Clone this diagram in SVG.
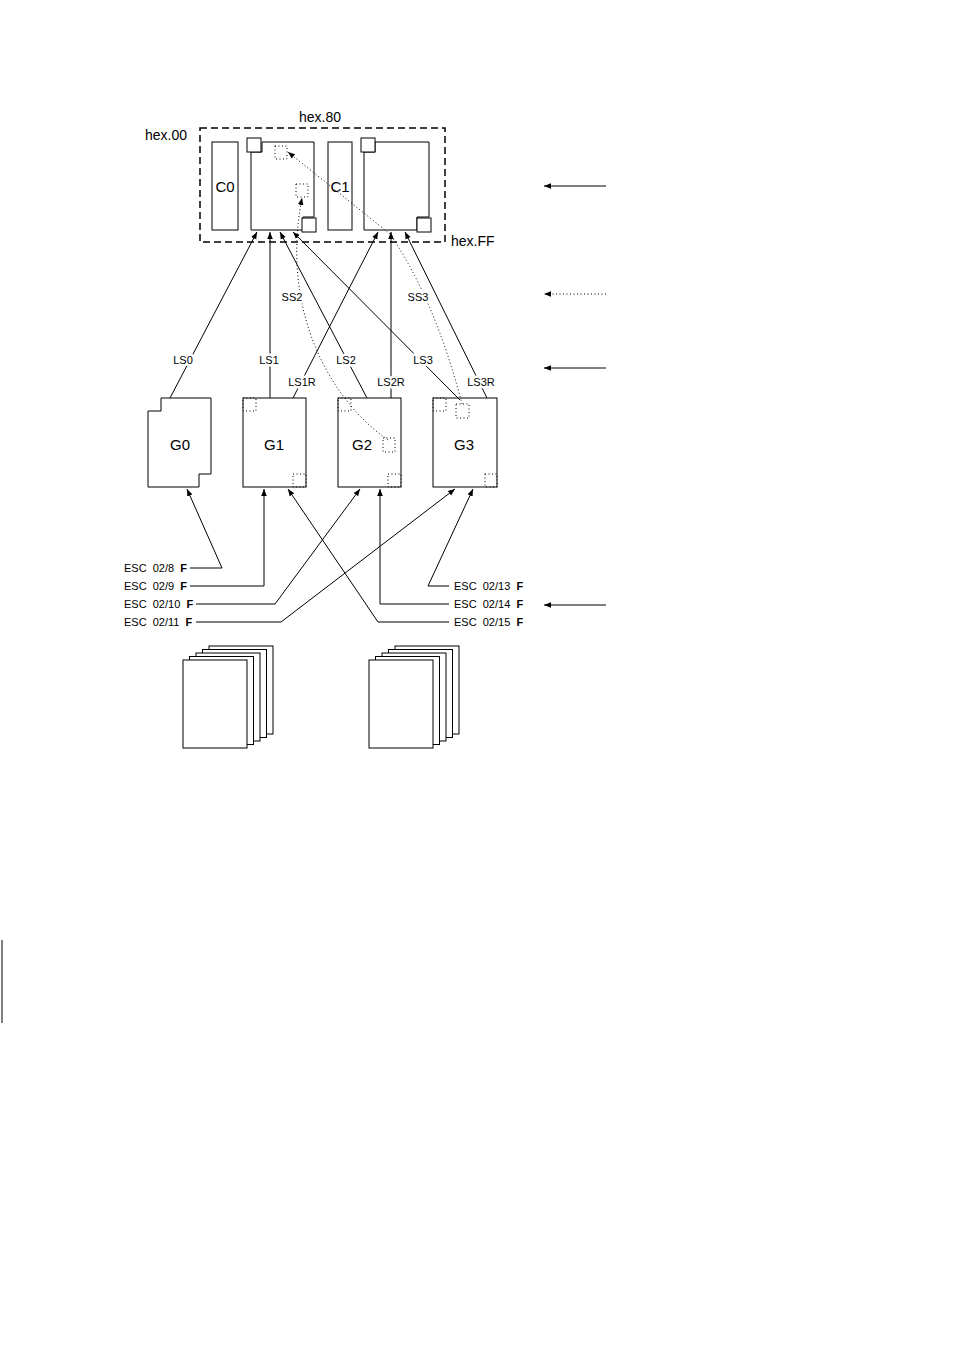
<svg xmlns="http://www.w3.org/2000/svg" width="954" height="1351" viewBox="0 0 954 1351">
<style>
text{font-family:"Liberation Sans",Arial,sans-serif;fill:#000;white-space:pre}
.s{fill:none;stroke:#000;stroke-width:1}
.d{fill:none;stroke:#000;stroke-width:1;stroke-dasharray:1,2.5}
.w{fill:#fff;stroke:#000;stroke-width:1}
.sm{font-size:11px}
.lb{font-size:11px;stroke:#fff;stroke-width:5;paint-order:stroke;stroke-linejoin:round}
.big{font-size:15px}
.h{font-size:14px}
</style>
<defs>
<marker id="a" viewBox="0 0 10 10" refX="10" refY="5" markerWidth="7" markerHeight="7" orient="auto-start-reverse"><path d="M0,1 L10,5 L0,9 z" fill="#000"/></marker>
</defs>
<rect width="954" height="1351" fill="#fff"/>
<g id="code-table">
<rect x="200" y="128" width="245" height="114" fill="none" stroke="#000" stroke-width="1.5" stroke-dasharray="7,4"/>
<text x="320" y="122" text-anchor="middle" class="h">hex.80</text>
<text x="145" y="140" class="h">hex.00</text>
<text x="451" y="246" class="h">hex.FF</text>
<rect x="212" y="142" width="26" height="88" class="w"/><text x="225" y="192" text-anchor="middle" class="big">C0</text>
<path d="M251,230 V152 H262 V142 H314 V217 H303 V230 Z" class="w" stroke="#666"/>
<rect x="247" y="138" width="14" height="14" class="w"/><rect x="302" y="218" width="14" height="14" class="w"/>
<rect x="275" y="146" width="12" height="13" class="d"/><rect x="296" y="184" width="12" height="13" class="d"/>
<rect x="328" y="142" width="24" height="88" class="w"/><text x="340" y="192" text-anchor="middle" class="big">C1</text>
<path d="M364,230 V152 H375 V142 H429 V217 H417 V230 Z" class="w" stroke="#666"/>
<rect x="361" y="138" width="14" height="14" class="w"/><rect x="417" y="218" width="14" height="14" class="w"/>
</g>
<g id="G0"><path d="M148,487 V411 H161 V398 H211 V474 H199 V487 Z" class="w"/><text x="180" y="450" text-anchor="middle" class="big">G0</text></g>
<g id="G1"><rect x="243" y="398" width="63" height="89" class="w"/><rect x="243" y="398" width="13" height="13" class="d"/><rect x="293" y="474" width="13" height="13" class="d"/><text x="274" y="450" text-anchor="middle" class="big">G1</text></g>
<g id="G2"><rect x="338" y="398" width="63" height="89" class="w"/><rect x="338" y="398" width="13" height="13" class="d"/><rect x="388" y="474" width="13" height="13" class="d"/><rect x="383" y="438" width="12" height="14" class="d"/><text x="362" y="450" text-anchor="middle" class="big">G2</text></g>
<g id="G3"><rect x="433" y="398" width="64" height="89" class="w"/><rect x="433" y="398" width="13" height="13" class="d"/><rect x="485" y="474" width="12" height="13" class="d"/><rect x="456" y="404" width="13" height="14" class="d"/><text x="464" y="450" text-anchor="middle" class="big">G3</text></g>
<g id="connectors">
<path d="M170,398 L257,232" class="s" marker-end="url(#a)"/>
<path d="M270,398 V232" class="s" marker-end="url(#a)"/>
<path d="M293,398 L378,232" class="s" marker-end="url(#a)"/>
<path d="M367,398 L280,232" class="s" marker-end="url(#a)"/>
<path d="M391,398 V232" class="s" marker-end="url(#a)"/>
<path d="M460,400 L293,232" class="s" marker-end="url(#a)"/>
<path d="M487,398 L405,232" class="s" marker-end="url(#a)"/>
<path d="M388,440 C330,400 280,310 302,198" class="d" marker-end="url(#a)"/>
<path d="M462,404 Q435,300 390,234 L288,152" class="d" marker-end="url(#a)"/>
<path d="M190,568 H222 L187,489" class="s" marker-end="url(#a)"/>
<path d="M190,586 H264 V489" class="s" marker-end="url(#a)"/>
<path d="M196,604 H275 L360,489" class="s" marker-end="url(#a)"/>
<path d="M196,622 H281 L455,489" class="s" marker-end="url(#a)"/>
<path d="M449,586 H428 L473,489" class="s" marker-end="url(#a)"/>
<path d="M449,604 H380 V489" class="s" marker-end="url(#a)"/>
<path d="M449,622 H378 L288,489" class="s" marker-end="url(#a)"/>
<path d="M606,186 H544" class="s" marker-end="url(#a)"/>
<path d="M606,294 H544" class="d" marker-end="url(#a)"/>
<path d="M606,368 H544" class="s" marker-end="url(#a)"/>
<path d="M606,605 H544" class="s" marker-end="url(#a)"/>
</g>
<g id="labels">
<text x="183" y="364" text-anchor="middle" class="lb">LS0</text>
<text x="269" y="364" text-anchor="middle" class="lb">LS1</text>
<text x="302" y="386" text-anchor="middle" class="lb">LS1R</text>
<text x="346" y="364" text-anchor="middle" class="lb">LS2</text>
<text x="391" y="386" text-anchor="middle" class="lb">LS2R</text>
<text x="423" y="364" text-anchor="middle" class="lb">LS3</text>
<text x="481" y="386" text-anchor="middle" class="lb">LS3R</text>
<text x="292" y="301" text-anchor="middle" class="lb">SS2</text>
<text x="418" y="301" text-anchor="middle" class="lb">SS3</text>
<text x="124" y="572" class="sm">ESC  02/8  <tspan font-weight="bold">F</tspan></text>
<text x="124" y="590" class="sm">ESC  02/9  <tspan font-weight="bold">F</tspan></text>
<text x="124" y="608" class="sm">ESC  02/10  <tspan font-weight="bold">F</tspan></text>
<text x="124" y="626" class="sm">ESC  02/11  <tspan font-weight="bold">F</tspan></text>
<text x="454" y="590" class="sm">ESC  02/13  <tspan font-weight="bold">F</tspan></text>
<text x="454" y="608" class="sm">ESC  02/14  <tspan font-weight="bold">F</tspan></text>
<text x="454" y="626" class="sm">ESC  02/15  <tspan font-weight="bold">F</tspan></text>
</g>
<g id="stack-left">
<rect x="209" y="646" width="64" height="88" class="w"/><rect x="202.5" y="649.5" width="64" height="88" class="w"/><rect x="196" y="653" width="64" height="88" class="w"/><rect x="189.5" y="656.5" width="64" height="88" class="w"/><rect x="183" y="660" width="64" height="88" class="w"/>
</g>
<g id="stack-right">
<rect x="395" y="646" width="64" height="88" class="w"/><rect x="388.5" y="649.5" width="64" height="88" class="w"/><rect x="382" y="653" width="64" height="88" class="w"/><rect x="375.5" y="656.5" width="64" height="88" class="w"/><rect x="369" y="660" width="64" height="88" class="w"/>
</g>
<line x1="2" y1="940" x2="2" y2="1023" stroke="#000" stroke-width="1"/>
</svg>
